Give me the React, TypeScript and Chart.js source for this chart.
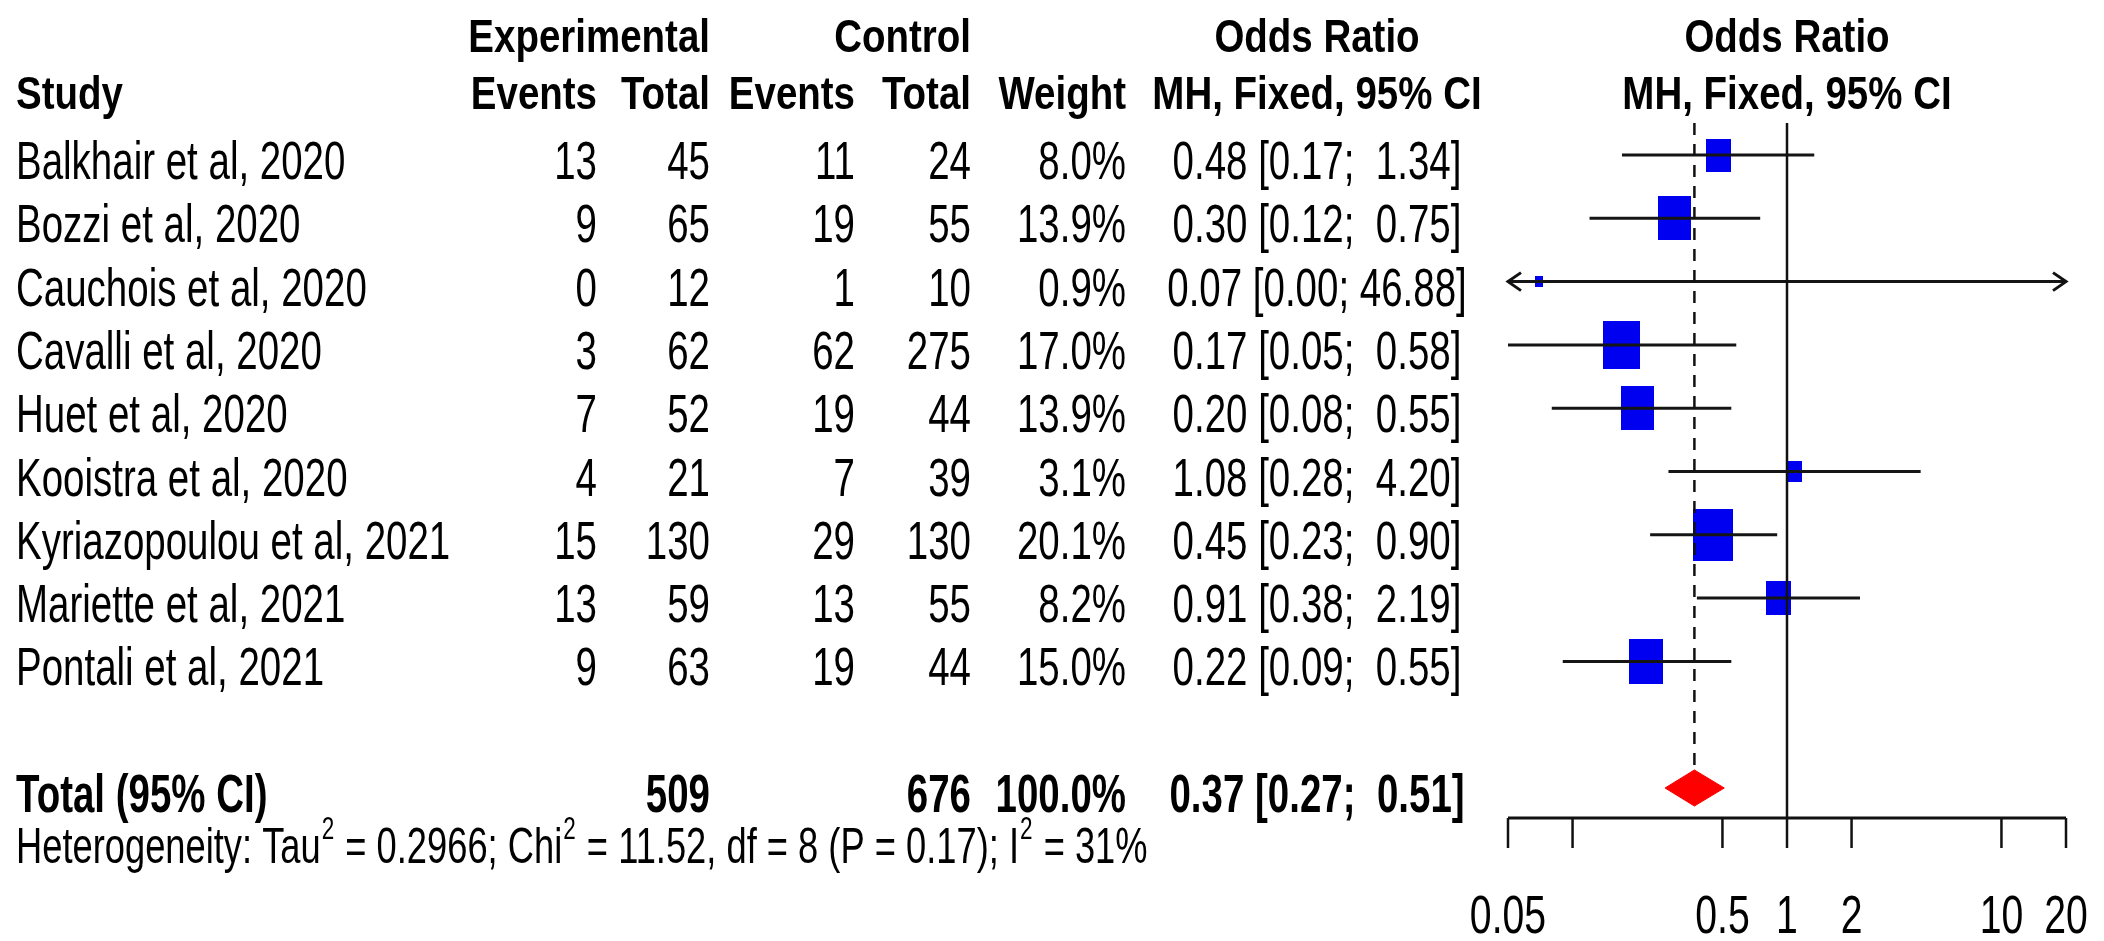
import React, { useEffect, useRef } from 'react';
import { Chart, registerables } from 'chart.js';

Chart.register(...registerables);

// ---------------- data ----------------
const studies = [
  'Balkhair et al, 2020',
  'Bozzi et al, 2020',
  'Cauchois et al, 2020',
  'Cavalli et al, 2020',
  'Huet et al, 2020',
  'Kooistra et al, 2020',
  'Kyriazopoulou et al, 2021',
  'Mariette et al, 2021',
  'Pontali et al, 2021',
];
const expEvents = [13, 9, 0, 3, 7, 4, 15, 13, 9];
const expTotal = [45, 65, 12, 62, 52, 21, 130, 59, 63];
const ctrlEvents = [11, 19, 1, 62, 19, 7, 29, 13, 19];
const ctrlTotal = [24, 55, 10, 275, 44, 39, 130, 55, 44];
const weights = [8.0, 13.9, 0.9, 17.0, 13.9, 3.1, 20.1, 8.2, 15.0];
const oddsRatio = [0.48, 0.3, 0.07, 0.17, 0.2, 1.08, 0.45, 0.91, 0.22];
const ciLow = [0.17, 0.12, 0.0, 0.05, 0.08, 0.28, 0.23, 0.38, 0.09];
const ciHigh = [1.34, 0.75, 46.88, 0.58, 0.55, 4.2, 0.9, 2.19, 0.55];

const totalLabel = 'Total (95% CI)';
const totalExp = 509;
const totalCtrl = 676;
const totalWeight = 100.0;
const totalOR = 0.37;
const totalLow = 0.27;
const totalHigh = 0.51;

const hetTau2 = '0.2966';
const hetChi2 = '11.52';
const hetDf = 8;
const hetP = '0.17';
const hetI2 = '31%';

const xTicks = [0.05, 0.1, 0.5, 1, 2, 10, 20];
const xTickLabels = ['0.05', '', '0.5', '1', '2', '10', '20'];
const X_MIN = 0.05;
const X_MAX = 20;

// ---------------- layout / style ----------------
const FONT = "'Liberation Sans', Arial, Helvetica, sans-serif";
const FS = 53;
const SX = 0.726;
const HEAD_FS = 47;
const HET_FS = 50;
const SUP_FS = 31;
const TICK_FS = 54;
const TOTAL_ROW = 10;
const Y_MIN = -0.506;
const Y_MAX = 10.474;
const DIAMOND_H = 0.285;
const ROW_DY = 24;

const fmt2 = (v: number) => v.toFixed(2);
const ciText = (e: number, l: number, h: number) =>
  `${fmt2(e)} [${fmt2(l)}; ${fmt2(h).padStart(5, ' ')}]`;

function makeBox(w: number) {
  const c = document.createElement('canvas');
  const s = Math.sqrt(w);
  c.width = Math.max(4, Math.round(8.9 * s));
  c.height = Math.max(5, Math.round(11.7 * s));
  const g = c.getContext('2d')!;
  g.fillStyle = '#0000F0';
  g.fillRect(0, 0, c.width, c.height);
  return c;
}

// text drawn with a horizontal squeeze; sx chosen so that widths stay at ~38.5px per em
function txt(
  ctx: CanvasRenderingContext2D,
  text: string,
  x: number,
  y: number,
  align: CanvasTextAlign,
  bold = false,
  size = FS,
  sx = SX
) {
  ctx.save();
  ctx.font = `${bold ? 'bold ' : ''}${size}px ${FONT}`;
  ctx.scale(sx, 1);
  ctx.textAlign = align;
  ctx.textBaseline = 'alphabetic';
  ctx.fillStyle = '#000';
  ctx.fillText(text, x / sx, y);
  ctx.restore();
}

function textWidth(ctx: CanvasRenderingContext2D, text: string, bold = false, size = FS) {
  ctx.save();
  ctx.font = `${bold ? 'bold ' : ''}${size}px ${FONT}`;
  const w = ctx.measureText(text).width * SX;
  ctx.restore();
  return w;
}

const forestPlugin = {
  id: 'forest',
  afterDatasetsDraw(chart: any) {
    const ctx: CanvasRenderingContext2D = chart.ctx;
    const xs = chart.scales.x;
    const ys = chart.scales.y;
    const area = chart.chartArea;
    ctx.save();
    ctx.strokeStyle = '#111';
    ctx.lineWidth = 3;
    studies.forEach((_, i) => {
      const y = ys.getPixelForValue(i);
      if (ciLow[i] < X_MIN) {
        const px = xs.getPixelForValue(X_MIN);
        ctx.beginPath();
        ctx.moveTo(px + 13, y - 9);
        ctx.lineTo(px, y);
        ctx.lineTo(px + 13, y + 9);
        ctx.stroke();
      }
      if (ciHigh[i] > X_MAX) {
        const px = xs.getPixelForValue(X_MAX);
        ctx.beginPath();
        ctx.moveTo(px - 13, y - 9);
        ctx.lineTo(px, y);
        ctx.lineTo(px - 13, y + 9);
        ctx.stroke();
      }
    });
    const ay = area.bottom;
    ctx.lineWidth = 3;
    ctx.beginPath();
    ctx.moveTo(xs.getPixelForValue(X_MIN), ay);
    ctx.lineTo(xs.getPixelForValue(X_MAX), ay);
    ctx.stroke();
    ctx.lineWidth = 2.5;
    xTicks.forEach((t) => {
      const px = xs.getPixelForValue(t);
      ctx.beginPath();
      ctx.moveTo(px, ay);
      ctx.lineTo(px, ay + 30);
      ctx.stroke();
    });
    ctx.restore();
    xTicks.forEach((t, i) => {
      if (xTickLabels[i]) txt(ctx, xTickLabels[i], xs.getPixelForValue(t), ay + 115, 'center', false, TICK_FS);
    });
  },
  afterDraw(chart: any) {
    const ctx: CanvasRenderingContext2D = chart.ctx;
    const ys = chart.scales.y;
    const xs = chart.scales.x;
    const plotCenter = (xs.getPixelForValue(X_MIN) + xs.getPixelForValue(X_MAX)) / 2;
    const C_STUDY = 16;
    const C_E1 = 597;
    const C_T1 = 710;
    const C_E2 = 855;
    const C_T2 = 971;
    const C_W = 1126;
    const C_CI = 1317;

    const hsx = (SX * FS) / HEAD_FS;
    const h1 = ys.getPixelForValue(-2.0) + ROW_DY;
    const h2 = ys.getPixelForValue(-1.1) + ROW_DY;
    const H = (s: string, x: number, y: number, a: CanvasTextAlign) => txt(ctx, s, x, y, a, true, HEAD_FS, hsx);
    H('Experimental', C_T1, h1, 'right');
    H('Control', C_T2, h1, 'right');
    H('Odds Ratio', C_CI, h1, 'center');
    H('Odds Ratio', plotCenter, h1, 'center');
    H('Study', C_STUDY, h2, 'left');
    H('Events', C_E1, h2, 'right');
    H('Total', C_T1, h2, 'right');
    H('Events', C_E2, h2, 'right');
    H('Total', C_T2, h2, 'right');
    H('Weight', C_W, h2, 'right');
    H('MH, Fixed, 95% CI', C_CI, h2, 'center');
    H('MH, Fixed, 95% CI', plotCenter, h2, 'center');

    studies.forEach((s, i) => {
      const y = ys.getPixelForValue(i) + ROW_DY;
      txt(ctx, s, C_STUDY, y, 'left');
      txt(ctx, String(expEvents[i]), C_E1, y, 'right');
      txt(ctx, String(expTotal[i]), C_T1, y, 'right');
      txt(ctx, String(ctrlEvents[i]), C_E2, y, 'right');
      txt(ctx, String(ctrlTotal[i]), C_T2, y, 'right');
      txt(ctx, `${weights[i].toFixed(1)}%`, C_W, y, 'right');
      txt(ctx, ciText(oddsRatio[i], ciLow[i], ciHigh[i]), C_CI, y, 'center');
    });

    const ty = ys.getPixelForValue(TOTAL_ROW) + ROW_DY;
    txt(ctx, totalLabel, C_STUDY, ty, 'left', true);
    txt(ctx, String(totalExp), C_T1, ty, 'right', true);
    txt(ctx, String(totalCtrl), C_T2, ty, 'right', true);
    txt(ctx, `${totalWeight.toFixed(1)}%`, C_W, ty, 'right', true);
    txt(ctx, ciText(totalOR, totalLow, totalHigh), C_CI, ty, 'center', true);

    const hy = ys.getPixelForValue(10.8) + ROW_DY;
    const parts: [string, boolean][] = [
      ['Heterogeneity: Tau', false],
      ['2', true],
      [` = ${hetTau2}; Chi`, false],
      ['2', true],
      [` = ${hetChi2}, df = ${hetDf} (P = ${hetP}); I`, false],
      ['2', true],
      [` = ${hetI2}`, false],
    ];
    let hx = C_STUDY;
    parts.forEach(([p, sup]) => {
      const size = sup ? SUP_FS : HET_FS;
      txt(ctx, p, hx + (sup ? 1 : 0), sup ? hy - 24 : hy, 'left', false, size);
      hx += textWidth(ctx, p, false, size) + (sup ? 2 : 0);
    });
  },
};

export default function App() {
  const ref = useRef<HTMLCanvasElement>(null);
  useEffect(() => {
    document.body.style.margin = '0';
    document.body.style.overflow = 'hidden';
    const canvas = ref.current!;
    const boxes = weights.map((w) => makeBox(w));

    const datasets: any[] = [];
    datasets.push({
      label: 'no effect',
      data: [
        { x: 1, y: Y_MIN },
        { x: 1, y: Y_MAX },
      ],
      showLine: true,
      borderColor: '#111',
      borderWidth: 2.5,
      pointRadius: 0,
      order: 1,
    });
    datasets.push({
      label: 'pooled',
      data: [
        { x: totalOR, y: Y_MIN },
        { x: totalOR, y: TOTAL_ROW - DIAMOND_H },
      ],
      showLine: true,
      borderColor: '#111',
      borderWidth: 2.5,
      borderDash: [12, 9],
      pointRadius: 0,
      order: 1,
    });
    studies.forEach((s, i) => {
      datasets.push({
        label: s,
        data: [
          { x: Math.max(ciLow[i], X_MIN), y: i },
          { x: Math.min(ciHigh[i], X_MAX), y: i },
        ],
        showLine: true,
        borderColor: '#151515',
        borderWidth: 3,
        pointRadius: 0,
        order: 1,
      });
    });
    datasets.push({
      label: 'OR',
      data: oddsRatio.map((v, i) => ({ x: v, y: i })),
      showLine: false,
      pointStyle: (c: any) => boxes[c.dataIndex],
      pointRadius: 5,
      order: 2,
    });
    datasets.push({
      label: 'Total',
      data: [
        { x: totalLow, y: TOTAL_ROW },
        { x: totalOR, y: TOTAL_ROW - DIAMOND_H },
        { x: totalHigh, y: TOTAL_ROW },
        { x: totalOR, y: TOTAL_ROW + DIAMOND_H },
        { x: totalLow, y: TOTAL_ROW },
      ],
      showLine: true,
      fill: 'shape',
      backgroundColor: '#FF0000',
      borderColor: '#FF0000',
      borderWidth: 1,
      pointRadius: 0,
      tension: 0,
      order: 2,
    });

    const chart = new Chart(canvas, {
      type: 'scatter',
      data: { datasets },
      options: {
        animation: false,
        responsive: false,
        devicePixelRatio: 1,
        events: [],
        layout: { padding: { left: 1508, right: 38, top: 123, bottom: 123 } },
        scales: {
          x: { type: 'logarithmic', min: X_MIN, max: X_MAX, display: false },
          y: { type: 'linear', min: Y_MIN, max: Y_MAX, reverse: true, display: false },
        },
        plugins: { legend: { display: false }, tooltip: { enabled: false } },
      },
      plugins: [forestPlugin],
    } as any);
    return () => chart.destroy();
  }, []);
  return (
    <div style={{ width: 2104, height: 941, background: '#fff' }}>
      <canvas ref={ref} width={2104} height={941} style={{ display: 'block' }} />
    </div>
  );
}
